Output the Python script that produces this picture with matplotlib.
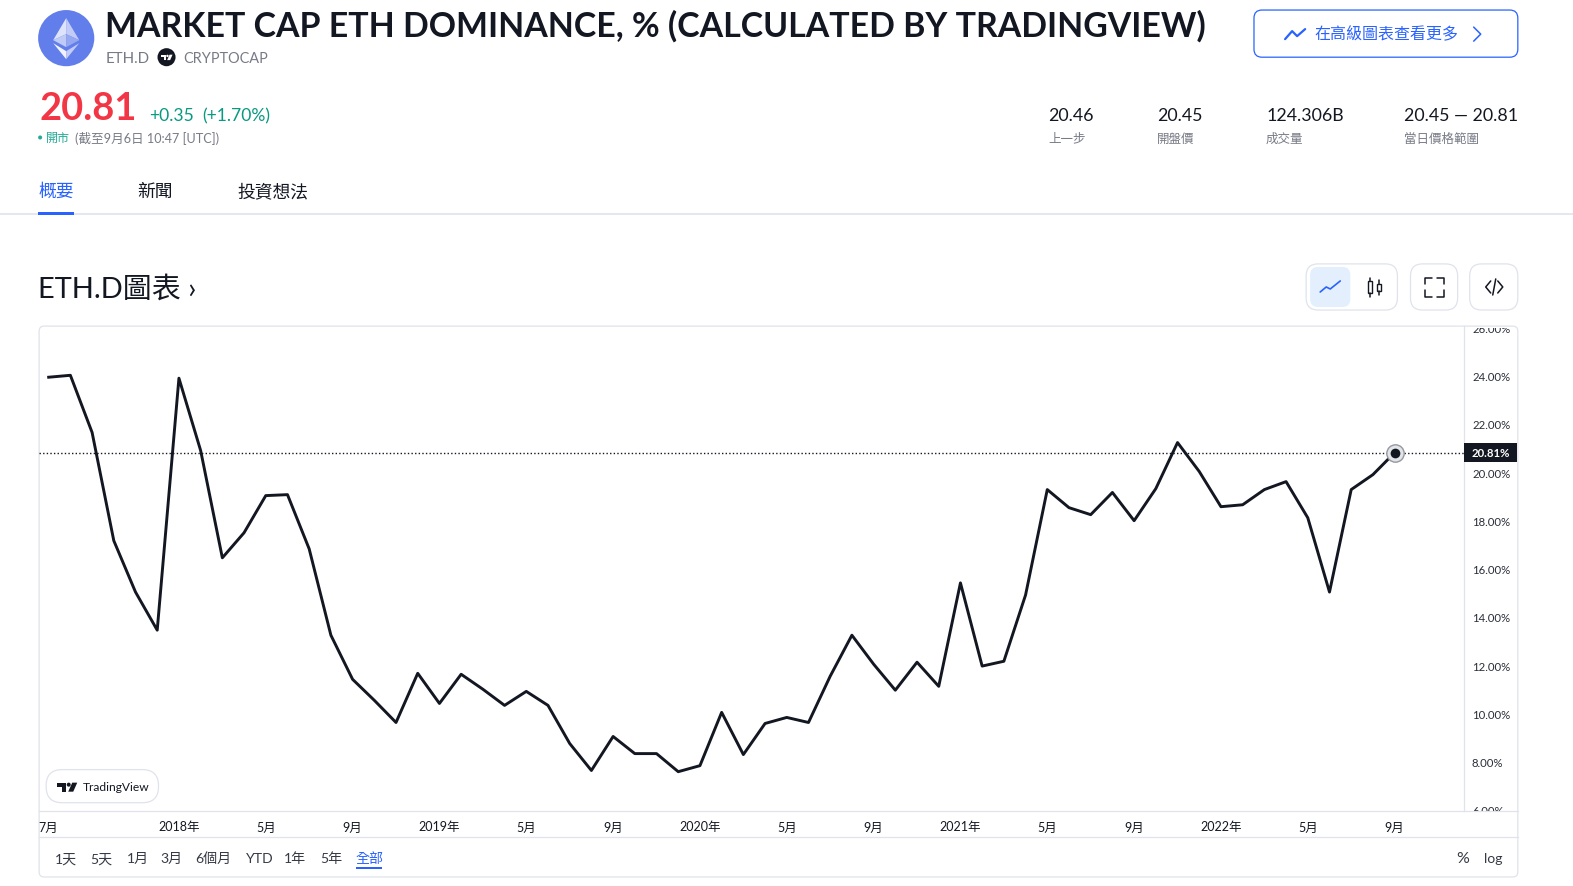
# ETH.D overview page from TradingView: page furniture plus the monthly line chart
import matplotlib
matplotlib.use('Agg')
import matplotlib.pyplot as plt
from matplotlib.patches import Circle, FancyBboxPatch, Polygon, Rectangle
from matplotlib.transforms import Bbox

plt.rcParams['font.family'] = ['Lato', 'Noto Sans CJK TC', 'DejaVu Sans']

# Monthly values, 2017-07 to 2022-09
eth_dominance = [23.94, 24.02, 21.65, 17.16, 15.03, 13.45, 23.90, 20.90, 16.45, 17.49, 19.03, 19.07,
                 16.82, 13.24, 11.41, 10.54, 9.62, 11.66, 10.41, 11.62, 11.00, 10.33, 10.91, 10.33,
                 8.75, 7.63, 9.04, 8.33, 8.33, 7.58, 7.83, 10.04, 8.29, 9.58, 9.83, 9.62,
                 11.54, 13.24, 12.04, 10.96, 12.12, 11.12, 15.41, 11.96, 12.16, 14.91, 19.28, 18.53,
                 18.24, 19.16, 17.99, 19.32, 21.23, 20.03, 18.57, 18.65, 19.28, 19.61, 18.11, 15.03,
                 19.28, 19.90, 20.81]
month_index = list(range(len(eth_dominance)))

x_tick_pos = [0, 6, 10, 14, 18, 22, 26, 30, 34, 38, 42, 46, 50, 54, 58, 62]
x_tick_labels = ['7月', '2018年', '5月', '9月', '2019年', '5月', '9月', '2020年',
                 '5月', '9月', '2021年', '5月', '9月', '2022年', '5月', '9月']
y_ticks = [6, 8, 10, 12, 14, 16, 18, 20, 22, 24, 26]
last_price = 20.81

stat_values = ['20.46', '20.45', '124.306B', '20.45 — 20.81']
stat_names = ['上一步', '開盤價', '成交量', '當日價格範圍']
stat_x = [1045, 1153, 1262, 1400]
range_labels = ['1天', '5天', '1月', '3月', '6個月', 'YTD', '1年', '5年']
range_x = [55, 90, 126, 160, 195, 245, 283, 319]

DARK = '#131722'
GRAY = '#787B86'
BLUE = '#2962FF'
LINE = '#E0E3EB'
W, H = 1568.0, 884.0

fig = plt.figure(figsize=(15.73, 8.87), dpi=100, facecolor='white')

# Overlay in page pixels for everything that is not the chart itself
page = fig.add_axes([0, 0, 1, 1])
page.set_xlim(0, W)
page.set_ylim(H, 0)
page.axis('off')


def text(x, y, s, size, color=DARK, weight='normal', ha='left'):
    page.text(x, y + 1.5, s, fontsize=size * 0.72, color=color, fontweight=weight, ha=ha, va='center')


def box(x0, y0, x1, y1, radius, edge=LINE, face='white', lw=0.9, z=1):
    page.add_patch(FancyBboxPatch((x0 + radius, y0 + radius), x1 - x0 - 2 * radius, y1 - y0 - 2 * radius,
                                  boxstyle='round,pad=%f' % radius, ec=edge, fc=face, lw=lw, zorder=z))


def stroke(xs, ys, color=DARK, lw=1.1):
    page.plot(xs, ys, color=color, lw=lw, solid_capstyle='round', solid_joinstyle='round', zorder=3)


def tv_logo(x, y, k, color):
    # logo is 20 wide and 9 high at k=1, x and y are its top left corner
    shapes = [[(0, 0), (9, 0), (9, 9), (5, 9), (5, 4), (0, 4)], [(15, 0), (20, 0), (16, 9), (11, 9)]]
    for pts in shapes:
        page.add_patch(Polygon([(x + k * a, y + k * b) for a, b in pts], fc=color, ec='none', zorder=4))
    page.add_patch(Circle((x + k * 11.5, y + k * 2), k * 2, fc=color, ec='none', zorder=4))


# Header
page.add_patch(Circle((66, 39), 28, fc='#627EEA', ec='none'))
page.add_patch(Polygon([(66, 19), (53, 41), (66, 35)], fc='#DDE3FA', ec='none', zorder=2))
page.add_patch(Polygon([(66, 19), (79, 41), (66, 35)], fc='#C2CCF6', ec='none', zorder=2))
page.add_patch(Polygon([(53, 41), (66, 35), (66, 48)], fc='#BFCAF6', ec='none', zorder=2))
page.add_patch(Polygon([(79, 41), (66, 35), (66, 48)], fc='#96A8F0', ec='none', zorder=2))
page.add_patch(Polygon([(53, 44), (66, 52), (66, 60)], fc='#F0F3FD', ec='none', zorder=2))
page.add_patch(Polygon([(79, 44), (66, 52), (66, 60)], fc='#C2CCF6', ec='none', zorder=2))
text(105, 25, 'MARKET CAP ETH DOMINANCE, % (CALCULATED BY TRADINGVIEW)', 33.9, weight='bold')
text(105, 57, 'ETH.D', 15, GRAY)
page.add_patch(Circle((166, 58), 9, fc=DARK, ec='none'))
tv_logo(160, 55.5, 0.6, 'white')
text(183, 57, 'CRYPTOCAP', 14.5, GRAY)

text(39, 107, '20.81', 38, '#F23645', weight='bold')
text(149, 114, '+0.35', 17.5, '#089981')
text(202, 114, '(+1.70%)', 17.5, '#089981')
page.add_patch(Circle((40, 138), 2, fc='#22AB94', ec='none'))
text(46, 136.5, '開市', 12, '#22AB94')
text(75, 136.5, '(截至9月6日 10:47 [UTC])', 12.6, GRAY)

for sx, val, name in zip(stat_x, stat_values, stat_names):
    text(sx, 114, val, 17.7)
    text(sx, 136.5, name, 12.5, GRAY)

# Advanced chart button
box(1250, 11, 1513, 58, 8, edge=BLUE)
stroke([1281, 1288, 1293, 1301], [40, 32, 37, 30], BLUE, 1.6)
text(1310, 33, '在高級圖表查看更多', 16, BLUE)
stroke([1469, 1476, 1469], [28, 35, 42], BLUE, 1.1)

# Tabs
text(38, 189.5, '概要', 17.8, BLUE)
text(137, 189.5, '新聞', 17.8)
text(237, 189.5, '投資想法', 17.8)
page.plot([0, W], [214.5, 214.5], color=LINE, lw=1.2)
page.add_patch(Rectangle((38, 212), 36, 3, fc=BLUE, ec='none', zorder=2))

# Chart heading and tool buttons
text(38, 287, 'ETH.D圖表 ›', 29)
box(1302, 264, 1393, 310, 12)
box(1306, 267, 1346, 307, 8, edge='none', face='#E3EFFD', z=2)
stroke([1316, 1322, 1326, 1331, 1336], [292, 287, 289, 285, 281], BLUE, 1.2)
page.add_patch(Rectangle((1364, 281), 4, 12, fc='white', ec=DARK, lw=1.0, zorder=3))
stroke([1366, 1366], [278, 281])
stroke([1366, 1366], [293, 297])
page.add_patch(Rectangle((1373, 284), 4, 7, fc='white', ec=DARK, lw=1.0, zorder=3))
stroke([1375, 1375], [280, 284])
stroke([1375, 1375], [291, 295])

box(1406, 264, 1453, 310, 12)
stroke([1420, 1420, 1427], [284, 278, 278])
stroke([1432, 1439, 1439], [278, 278, 284])
stroke([1420, 1420, 1427], [290, 297, 297])
stroke([1432, 1439, 1439], [297, 297, 290])
box(1465, 264, 1513, 310, 12)
stroke([1486, 1481, 1486], [281, 287, 293])
stroke([1493, 1498, 1493], [281, 287, 293])
stroke([1491, 1488], [279, 295])

# Chart frame
box(39, 326, 1513, 875, 5)
page.plot([39, 1513], [809, 809], color=LINE, lw=0.9, zorder=2)
page.plot([39, 1513], [835, 835], color=LINE, lw=0.9, zorder=2)
page.plot([1459, 1459], [326, 809], color=LINE, lw=0.9, zorder=2)

# Line chart on real axes
ax = fig.add_axes([39 / W, 1 - 809 / H, (1459 - 39) / W, (809 - 326) / H])
ax.patch.set_alpha(0)
ax.plot(month_index, eth_dominance, color=DARK, lw=2.1, solid_joinstyle='round', zorder=3)
ax.axhline(last_price, color=DARK, lw=1.0, ls=(0, (1, 1.6)), zorder=2)
ax.plot(month_index[-1], last_price, 'o', ms=12.5, mfc='#E4E5E8', mec='#9598A1', mew=1.0, zorder=4)
ax.plot(month_index[-1], last_price, 'o', ms=7, mfc=DARK, mec='none', zorder=5)
ax.set_xlim(-0.44, 65.18)
ax.set_ylim(5.96, 26.06)
for side in ax.spines.values():
    side.set_visible(False)
ax.set_xticks(x_tick_pos, x_tick_labels)
ax.yaxis.tick_right()
ax.set_yticks(y_ticks, ['%.2f%%' % v for v in y_ticks])
ax.tick_params(axis='x', length=0, pad=7, labelsize=9, labelcolor=DARK)
ax.tick_params(axis='y', length=0, pad=6, labelsize=8.2, labelcolor='#2A2E39')

# Scale labels at both ends are cut by the frame
fig.canvas.draw()
clip = Bbox.from_extents(1459 / W * fig.bbox.width, (1 - 809 / H) * fig.bbox.height,
                         1513 / W * fig.bbox.width, (1 - 327.5 / H) * fig.bbox.height)
for lab in ax.get_yticklabels():
    lab.set_clip_box(clip)
    lab.set_clip_on(True)

# Last price tag on the scale
ax.add_patch(Rectangle((1.0, last_price - 0.39), 53 / 1420, 0.78, transform=ax.get_yaxis_transform(),
                       fc=DARK, ec='none', clip_on=False, zorder=6))
ax.text(1.0 + 8 / 1420, last_price, '%.2f%%' % last_price, transform=ax.get_yaxis_transform(),
        fontsize=8.2, color='white', fontweight='bold', va='center', ha='left', zorder=7)

# TradingView badge
box(46, 768, 158, 801, 16, z=3)
page.set_zorder(1)
ax.set_zorder(2)
tv_logo(57, 781, 1, DARK)
text(83, 783.5, 'TradingView', 12, DARK)

# Range selector
for rx, lab in zip(range_x, range_labels):
    text(rx, 854.5, lab, 14, '#363A45')
text(354, 854.5, '全部', 14, BLUE)
page.add_patch(Rectangle((355, 865), 26, 2, fc=BLUE, ec='none', zorder=2))
text(1452, 854.5, '%', 16, '#363A45')
text(1479, 854.5, 'log', 14, '#363A45')

fig.savefig('out.png', dpi=100)
